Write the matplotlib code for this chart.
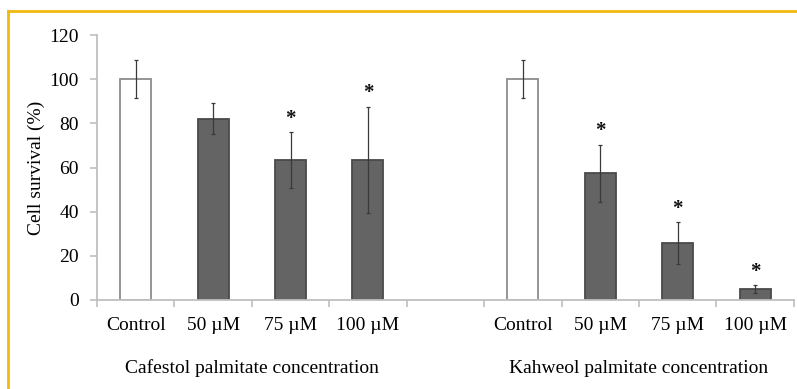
import numpy as np
import matplotlib
matplotlib.use("Agg")
import matplotlib.pyplot as plt
from matplotlib.lines import Line2D

plt.rcParams['font.family'] = ['Liberation Serif', 'DejaVu Serif']

# values
conc_labels = ['Control', '50 \u00b5M', '75 \u00b5M', '100 \u00b5M']
cafestol_vals = [100, 82, 63.3, 63.5]
cafestol_err = [8.5, 7, 12.7, 24]
cafestol_sig = [False, False, True, True]
kahweol_vals = [100, 57.4, 25.8, 5.0]
kahweol_err = [8.5, 13, 9.5, 1.8]
kahweol_sig = [False, True, True, True]
group_labels = ['Cafestol palmitate concentration', 'Kahweol palmitate concentration']

fig = plt.figure(figsize=(7.97, 3.89), dpi=100)
ax = fig.add_axes([0.1217, 0.2288, 0.8743, 0.6812])

axis_grey = '#bfbfbf'
bar_dark = '#646464'
fs = 14

for start, vals, errs, sig in [(0, cafestol_vals, cafestol_err, cafestol_sig),
                               (5, kahweol_vals, kahweol_err, kahweol_sig)]:
    x = np.arange(len(vals)) + start
    colors = ['white'] + [bar_dark] * (len(vals) - 1)
    edges = ['#8c8c8c'] + ['#4a4a4a'] * (len(vals) - 1)
    ax.bar(x, vals, width=0.4, color=colors, edgecolor=edges, linewidth=1.3, zorder=2)
    ax.errorbar(x, vals, yerr=errs, fmt='none', ecolor='#3a3a3a', elinewidth=0.9,
                capsize=1.2, capthick=0.9, zorder=3)
    for xi, v, e, s in zip(x, vals, errs, sig):
        if s:
            ax.text(xi, v + e + 1.5, '*', ha='center', va='bottom', fontsize=15,
                    fontweight='bold', color='#111111')

ax.set_xlim(-0.5, 8.5)
ax.set_ylim(0, 120)
ax.set_yticks(np.arange(0, 121, 20))
centers = [0, 1, 2, 3, 5, 6, 7, 8]
ax.set_xticks(centers)
ax.set_xticklabels(conc_labels + conc_labels)
ax.set_xticks(np.arange(-0.5, 9, 1), minor=True)
ax.tick_params(axis='x', which='major', length=0, pad=12, labelsize=fs)
ax.tick_params(axis='x', which='minor', length=5, color=axis_grey, width=1.2)
ax.tick_params(axis='y', length=5, color=axis_grey, width=1.2, labelsize=fs, pad=8)

for side in ['top', 'right']:
    ax.spines[side].set_visible(False)
for side in ['left', 'bottom']:
    ax.spines[side].set_color(axis_grey)
    ax.spines[side].set_linewidth(1.3)

ax.set_ylabel('Cell survival (%)', fontsize=fs, labelpad=3)

for xc, lab in zip([1.5, 6.5], group_labels):
    ax.annotate(lab, xy=(xc, 0), xycoords=('data', 'axes fraction'),
                xytext=(0, -49), textcoords='offset points', ha='center',
                va='center', fontsize=fs)

# yellow frame
yellow = '#f2b90f'
fig.add_artist(Line2D([8 / 797, 1], [1 - 11 / 389, 1 - 11 / 389], color=yellow, lw=2))
fig.add_artist(Line2D([8 / 797, 8 / 797], [0, 1 - 11 / 389], color=yellow, lw=2))

fig.savefig('out.png', dpi=100)
